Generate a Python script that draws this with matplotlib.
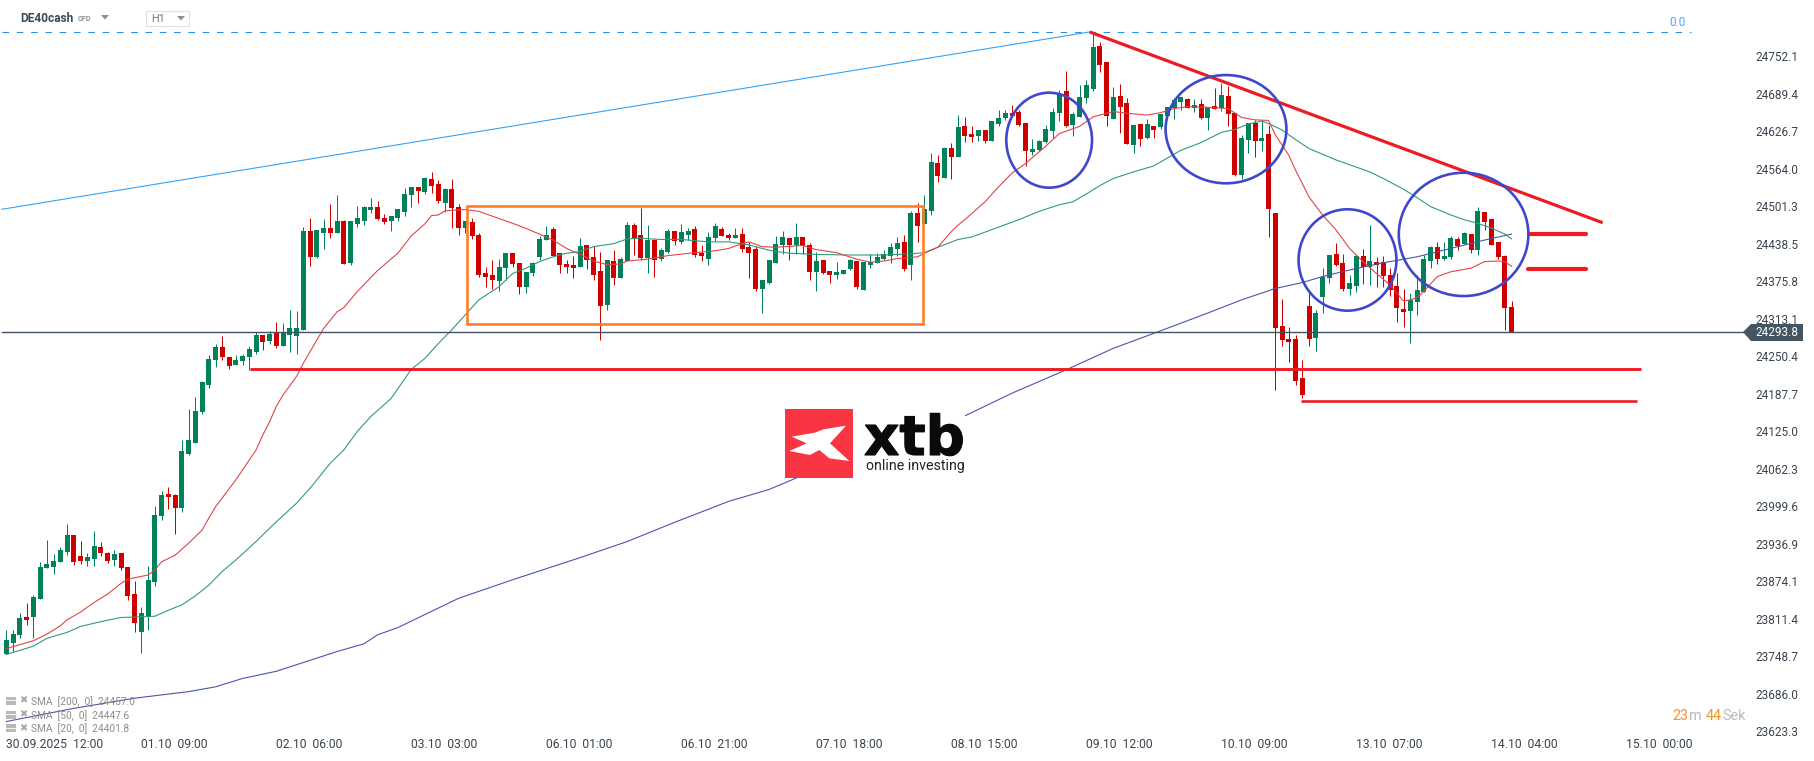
import matplotlib
matplotlib.use('Agg')
import matplotlib.pyplot as plt
import matplotlib.patheffects as pe
from matplotlib.patches import Ellipse, Rectangle, Polygon
from matplotlib.transforms import Affine2D

plt.rcParams['font.family'] = ['Roboto', 'DejaVu Sans']

W, H = 1815, 761

# H1 candles
opens = [
    23756,23775,23788,23818,23818,23848,23899,23901,23909,23927,
    23955,23920,23911,23915,23935,23925,23913,23925,23901,23856,
    23793,23818,23876,23987,24023,24022,24000,24090,24109,24161,
    24206,24248,24269,24252,24239,24246,24252,24261,24289,24279,
    24293,24271,24289,24288,24298,24463,24420,24460,24468,24460,
    24480,24410,24475,24480,24498,24503,24485,24480,24485,24495,
    24523,24537,24528,24550,24542,24510,24533,24503,24468,24478,
    24456,24393,24390,24380,24401,24426,24410,24369,24393,24420,
    24448,24466,24426,24408,24406,24403,24440,24420,24396,24339,
    24413,24385,24413,24473,24456,24418,24448,24416,24428,24463,
    24445,24456,24466,24426,24416,24451,24466,24456,24451,24458,
    24436,24433,24366,24376,24410,24440,24451,24440,24453,24440,
    24395,24415,24396,24390,24391,24400,24413,24364,24406,24410,
    24416,24421,24433,24445,24406,24493,24475,24497,24577,24552,
    24602,24587,24639,24625,24622,24632,24614,24642,24652,24660,
    24662,24644,24595,24599,24612,24630,24660,24697,24640,24654,
    24686,24701,24773,24746,24650,24689,24677,24607,24642,24619,
    24639,24637,24655,24668,24679,24684,24669,24676,24652,24672,
    24669,24689,24660,24557,24615,24644,24614,24625,24493,24304,
    24283,24283,24217,24338,24284,24353,24385,24425,24410,24366,
    24371,24421,24403,24411,24411,24390,24371,24333,24329,24344,
    24361,24413,24436,24416,24420,24450,24441,24458,24431,24495,
    24483,24445,24421,24336]
highs = [
    23796,23796,23824,23842,23854,23910,23947,23923,23935,23973,
    23955,23945,23925,23962,23943,23926,23930,23925,23901,23878,
    23834,23903,24003,24028,24035,24023,24114,24166,24186,24212,
    24256,24274,24288,24252,24256,24258,24271,24294,24289,24296,
    24311,24309,24331,24329,24470,24485,24465,24483,24508,24523,
    24482,24480,24505,24505,24518,24513,24492,24488,24500,24535,
    24537,24537,24553,24562,24548,24535,24550,24508,24480,24485,
    24460,24403,24415,24416,24426,24426,24410,24395,24411,24455,
    24471,24470,24426,24415,24421,24451,24440,24438,24428,24415,
    24431,24420,24478,24476,24502,24473,24450,24435,24466,24463,
    24475,24468,24471,24440,24461,24476,24470,24460,24468,24468,
    24445,24438,24381,24415,24455,24463,24451,24476,24453,24443,
    24428,24415,24396,24411,24398,24416,24413,24411,24425,24426,
    24431,24443,24453,24456,24497,24510,24523,24594,24590,24604,
    24610,24657,24654,24639,24632,24632,24647,24665,24665,24674,
    24665,24644,24617,24615,24640,24669,24699,24731,24662,24707,
    24716,24796,24779,24746,24704,24709,24686,24640,24642,24650,
    24639,24659,24670,24686,24687,24686,24684,24684,24670,24702,
    24711,24706,24660,24624,24644,24649,24649,24640,24493,24350,
    24303,24289,24247,24364,24331,24401,24423,24443,24425,24390,
    24423,24433,24473,24420,24421,24401,24393,24366,24359,24390,
    24423,24438,24445,24445,24455,24453,24461,24458,24503,24495,
    24483,24445,24423,24346]
lows = [
    23756,23759,23782,23805,23783,23848,23899,23890,23909,23922,
    23905,23906,23903,23903,23920,23908,23903,23896,23846,23793,
    23758,23796,23870,23980,23998,23957,23993,24089,24109,24157,
    24201,24236,24248,24232,24239,24239,24231,24258,24264,24274,
    24268,24271,24261,24258,24298,24405,24418,24433,24451,24460,
    24408,24406,24470,24473,24493,24482,24475,24463,24480,24488,
    24503,24510,24525,24527,24510,24495,24468,24456,24460,24450,
    24386,24370,24367,24363,24381,24403,24357,24360,24388,24415,
    24448,24421,24393,24393,24385,24403,24400,24381,24281,24331,
    24373,24385,24413,24423,24415,24393,24386,24413,24426,24440,
    24441,24448,24420,24413,24406,24446,24455,24448,24451,24428,
    24385,24363,24326,24374,24410,24425,24415,24425,24425,24381,
    24363,24391,24376,24383,24391,24398,24366,24364,24401,24410,
    24415,24410,24421,24396,24381,24445,24475,24490,24545,24552,
    24550,24587,24612,24612,24614,24610,24614,24638,24649,24655,
    24639,24572,24590,24597,24610,24619,24647,24637,24622,24654,
    24677,24697,24729,24639,24650,24627,24609,24594,24605,24617,
    24619,24634,24649,24650,24666,24669,24662,24650,24632,24667,
    24664,24639,24555,24550,24594,24587,24597,24453,24197,24271,
    24244,24206,24184,24271,24263,24326,24376,24405,24363,24356,
    24361,24375,24373,24370,24370,24355,24311,24303,24276,24323,
    24361,24401,24408,24415,24416,24431,24441,24426,24423,24465,
    24440,24416,24298,24294]
closes = [
    23779,23789,23816,23813,23851,23901,23906,23911,23930,23955,
    23910,23911,23918,23936,23924,23911,23923,23900,23853,23808,
    23824,23880,23988,24022,24018,24000,24095,24114,24162,24211,
    24249,24269,24252,24237,24248,24254,24266,24289,24278,24291,
    24271,24293,24301,24301,24463,24420,24465,24468,24460,24480,
    24408,24480,24485,24503,24503,24483,24478,24488,24500,24525,
    24537,24530,24552,24538,24513,24533,24502,24468,24480,24455,
    24390,24386,24381,24403,24426,24408,24369,24395,24410,24450,
    24456,24421,24406,24403,24401,24438,24415,24390,24338,24415,
    24385,24416,24473,24451,24418,24448,24415,24431,24463,24446,
    24461,24463,24423,24421,24453,24471,24455,24451,24456,24433,
    24426,24366,24381,24415,24441,24453,24440,24453,24438,24395,
    24413,24393,24390,24395,24398,24415,24369,24411,24411,24420,
    24425,24436,24443,24400,24493,24471,24500,24578,24555,24602,
    24587,24637,24622,24620,24632,24614,24647,24652,24660,24655,
    24640,24597,24600,24614,24634,24662,24692,24639,24659,24687,
    24707,24771,24741,24655,24687,24670,24609,24640,24617,24642,
    24632,24659,24670,24682,24687,24669,24674,24652,24670,24667,
    24691,24659,24557,24619,24644,24614,24619,24500,24301,24281,
    24278,24212,24189,24283,24326,24386,24423,24406,24366,24376,
    24421,24403,24413,24406,24388,24365,24334,24328,24348,24365,
    24416,24436,24416,24421,24451,24438,24460,24431,24497,24478,
    24440,24420,24334,24294]

# moving averages, read at candle positions
sma20_idx = [0,4,6,8,9,11,13,15,17,18,21,22,23,25,27,29,30,31,34,37,38,39,40,41,43,44,47,49,50,52,
             55,58,60,62,63,64,65,68,70,73,76,79,81,83,85,87,89,91,92,95,98,102,105,107,109,110,112,114,118,120,
             123,126,128,130,132,135,136,138,140,141,142,145,147,149,151,154,156,159,161,162,164,166,169,171,173,175,178,181,183,185,
             187,188,190,191,193,195,197,199,201,203,205,207,208,209,210,212,214,216,217,219,221,222,223]
sma20_val = [23765,23778,23789,23803,23813,23826,23842,23856,23874,23881,23888,23896,23910,23921,23941,23963,23983,24002,24047,24097,24122,24144,24170,24189,24220,24242,24300,24328,24335,24362,
             24397,24426,24455,24475,24489,24490,24497,24499,24496,24484,24472,24458,24448,24434,24424,24413,24407,24408,24413,24416,24422,24427,24430,24434,24442,24445,24437,24436,24439,24432,
             24427,24416,24411,24413,24417,24420,24426,24436,24462,24473,24482,24512,24537,24560,24576,24605,24626,24638,24654,24657,24663,24660,24657,24661,24668,24671,24670,24668,24653,24649,
             24648,24624,24590,24565,24520,24490,24465,24434,24412,24392,24373,24346,24348,24352,24362,24387,24395,24399,24401,24412,24413,24412,24404]

sma50_idx = [0,4,6,9,11,14,17,20,22,24,26,28,30,32,34,37,40,43,45,48,50,52,54,57,60,62,64,66,68,70,
             73,75,77,79,81,83,85,87,90,92,94,97,100,104,107,110,113,116,120,125,130,134,136,138,141,143,150,153,156,158,
             160,162,164,167,170,172,174,177,180,182,184,186,187,189,191,193,197,199,202,204,207,209,211,214,216,218,220,222,223]
sma50_val = [23755,23769,23782,23792,23802,23810,23817,23818,23819,23829,23838,23853,23871,23894,23913,23944,23977,24008,24033,24075,24097,24128,24153,24183,24232,24250,24275,24298,24323,24348,
             24370,24392,24401,24412,24420,24426,24429,24437,24442,24450,24451,24449,24449,24445,24445,24440,24431,24426,24424,24423,24423,24425,24427,24436,24449,24453,24482,24496,24507,24512,
             24525,24539,24551,24562,24572,24585,24598,24611,24628,24633,24642,24647,24643,24632,24616,24601,24582,24574,24562,24551,24533,24519,24504,24490,24482,24476,24468,24458,24450]

sma200_idx = [0,10,19,27,31,35,40,46,49,53,55,58,67,75,85,92,99,107,113,117,142,149,157,164,170,178,183,188,192,195,199,204,209,214,219,223]
sma200_val = [23643,23665,23682,23693,23701,23715,23727,23749,23760,23773,23788,23800,23849,23880,23917,23944,23976,24011,24031,24050,24154,24192,24231,24267,24292,24326,24348,24367,24377,24387,24398,24410,24420,24434,24448,24458]

ytick_vals = [24752.1,24689.4,24626.7,24564.0,24501.3,24438.5,24375.8,24313.1,24250.4,24187.7,
              24125.0,24062.3,23999.6,23936.9,23874.1,23811.4,23748.7,23686.0,23623.3]
xtick_pos = [0,20,40,60,80,100,120,140,160,180,200,220,240]
xtick_labels = ['30.09.2025  12:00','01.10  09:00','02.10  06:00','03.10  03:00','06.10  01:00',
                '06.10  21:00','07.10  18:00','08.10  15:00','09.10  12:00','10.10  09:00',
                '13.10  07:00','14.10  04:00','15.10  00:00']
last_price = 24293.8

fig = plt.figure(figsize=(W / 100, H / 100), dpi=100)
ax = fig.add_axes([0, 0, 1, 1])
ax.set_xlim(-0.933, 267.96)
ax.set_ylim(23577.0, 24849.4)
for s in ax.spines.values():
    s.set_visible(False)

# pixel positions for the screen furniture (y down)
px = Affine2D().scale(1, -1).translate(0, H)

GREEN = '#00815a'
RED = '#d00000'
LW1 = 0.72  # about one pixel

xs = list(range(len(opens)))
cols = [GREEN if c >= o else RED for o, c in zip(opens, closes)]
bottoms = [min(o, c) for o, c in zip(opens, closes)]
sizes = [abs(c - o) for o, c in zip(opens, closes)]
ax.vlines(xs, lows, highs, colors=cols, lw=LW1, zorder=2)
ax.bar(xs, sizes, bottom=bottoms, width=0.74, color=cols, linewidth=0, zorder=3)

# moving averages
ax.plot(sma200_idx, sma200_val, color='#4854ad', lw=LW1 * 1.1, zorder=4, solid_joinstyle='round')
ax.plot(sma50_idx, sma50_val, color='#2f9a78', lw=LW1 * 1.1, zorder=4, solid_joinstyle='round')
ax.plot(sma20_idx, sma20_val, color='#e04448', lw=LW1 * 1.1, zorder=4, solid_joinstyle='round')

# fibo line and the 0.0 level
ax.plot([-0.64, 160.5], [24499.5, 24796], color='#35a2f5', lw=LW1 * 1.1, zorder=5)
ax.plot([-0.64, 249.6], [24796, 24796], color='#2a8fe6', lw=LW1 * 1.1, dashes=(6, 7), zorder=5)
ax.text(1677, 22, '0.0', transform=px, ha='center', va='center', fontsize=8.5, color='#4aa6f0')

# last price line
ax.axhline(last_price, xmin=0.001, xmax=1743 / W, color='#44525f', lw=1.0, zorder=5)
ax.add_patch(Polygon([(1743, 332), (1751, 324), (1803, 324), (1803, 341), (1751, 341)],
                     transform=px, fc='#445561', ec='none', zorder=8))
ax.text(1777, 333, '24293.8', transform=px, ha='center', va='center', color='white', fontsize=8.5, zorder=9)

# drawn levels
RL = '#ed1c24'
ax.plot([160.5, 236.5], [24796, 24477], color=RL, lw=2.3, zorder=6, solid_capstyle='butt')
ax.plot([36.1, 242.2], [24232, 24232], color=RL, lw=2.1, zorder=6, solid_capstyle='butt')
ax.plot([191.8, 241.6], [24178.4, 24178.4], color=RL, lw=1.9, zorder=6, solid_capstyle='butt')
ax.plot([225.8, 234.1], [24457.7, 24457.7], color=RL, lw=3.0, zorder=6, solid_capstyle='round')
ax.plot([225.4, 234.0], [24399, 24399], color=RL, lw=3.0, zorder=6, solid_capstyle='round')

ax.add_patch(Rectangle((68.3, 24307.2), 67.5, 197.3, fill=False, ec='#ff7f27', lw=1.9, zorder=6))

# circles
for cx, cy, w, h in [(154.5, 24615, 12.7, 158.8), (180.7, 24633.4, 17.9, 181),
                     (198.7, 24414.7, 14.5, 169.5), (215.9, 24457.5, 19.2, 206.2)]:
    ax.add_patch(Ellipse((cx, cy), w, h, fill=False, ec='#3f48cc', lw=1.9, zorder=7))

# logo on a white box
ax.add_patch(Rectangle((785, 398), 180, 80, transform=px, fc='white', ec='none', zorder=8))
ax.add_patch(Rectangle((785, 409), 68, 68.7, transform=px, fc='#f93443', ec='none', zorder=9))
logo_x = [(95, 140), (165, 128), (190, 118), (258, 107), (210, 160), (268, 213), (208, 205),
          (178, 180), (150, 195), (88, 183), (140, 160)]
ax.add_patch(Polygon([(760 + a / 3, 390 + b / 3) for a, b in logo_x], transform=px,
                     fc='white', ec='none', zorder=10))
ax.text(864, 455, 'xtb', transform=px, ha='left', va='baseline', fontsize=39.5, color='#0a0a0a',
        family=['DejaVu Sans'], weight='bold', zorder=10,
        path_effects=[pe.withStroke(linewidth=0.8, foreground='#0a0a0a')])
ax.text(866, 466, 'online investing', transform=px, ha='left', va='center', fontsize=10.2,
        color='#222222', zorder=10)

# axes labels
ax.yaxis.tick_right()
ax.set_yticks(ytick_vals)
ax.set_yticklabels([f'{v:.1f}' for v in ytick_vals], fontsize=8.5, color='#3a4550', ha='left')
ax.tick_params(axis='y', length=0, pad=-43.2)
up = Affine2D().translate(0, 2)
for lab in ax.get_yticklabels():
    lab.set_transform(lab.get_transform() + up)
ax.set_xticks(xtick_pos)
ax.set_xticklabels(xtick_labels, fontsize=8.7, color='#3a4550', ha='left')
ax.tick_params(axis='x', length=0, pad=-16.8)

# header
ax.text(20, 18.5, 'DE40cash', transform=px, ha='left', va='center', fontsize=8.6, weight='bold', color='#3b4a57')
ax.text(78, 19, 'CFD', transform=px, ha='left', va='center', fontsize=5.3, color='#8a8f94', weight='bold')
ax.add_patch(Polygon([(101, 15), (109, 15), (105, 19.5)], transform=px, fc='#8a8f94', ec='none'))
ax.add_patch(Rectangle((145.5, 10.5), 43, 15, transform=px, fc='white', ec='#dfe2e5', lw=0.8))
ax.text(151, 19, 'H1', transform=px, ha='left', va='center', fontsize=7.8, color='#6f767c')
ax.add_patch(Polygon([(177, 16), (185, 16), (181, 20.5)], transform=px, fc='#8a8f94', ec='none'))

# indicator list, bottom left
legend_rows = ['SMA  [200,  0]  24457.0', 'SMA  [50,  0]  24447.6', 'SMA  [20,  0]  24401.8']
for row, y in zip(legend_rows, [701.5, 715.5, 729]):
    ax.text(31, y, row, transform=px, ha='left', va='center', fontsize=7.3, color='#8c8c8c', zorder=9)
    ax.add_patch(Rectangle((6, y - 5), 10, 8, transform=px, fc='#a8a8a8', ec='none', alpha=0.8, zorder=9))
    ax.plot([6, 16], [y - 1.5, y - 1.5], transform=px, color='white', lw=0.6, zorder=9)
    ax.text(23.5, y - 1, '\u2716', transform=px, ha='center', va='center', fontsize=7,
            family=['DejaVu Sans'], color='#a8a8a8', zorder=9)

# countdown
for txt, x, c in [('23', 1672, '#f7931e'), ('m', 1689, '#b8bcc0'), ('44', 1705.5, '#f7931e'), ('Sek', 1722, '#b8bcc0')]:
    ax.text(x, 716, txt, transform=px, ha='left', va='center', fontsize=10.4, color=c)

plt.savefig('out.png', dpi=100)
